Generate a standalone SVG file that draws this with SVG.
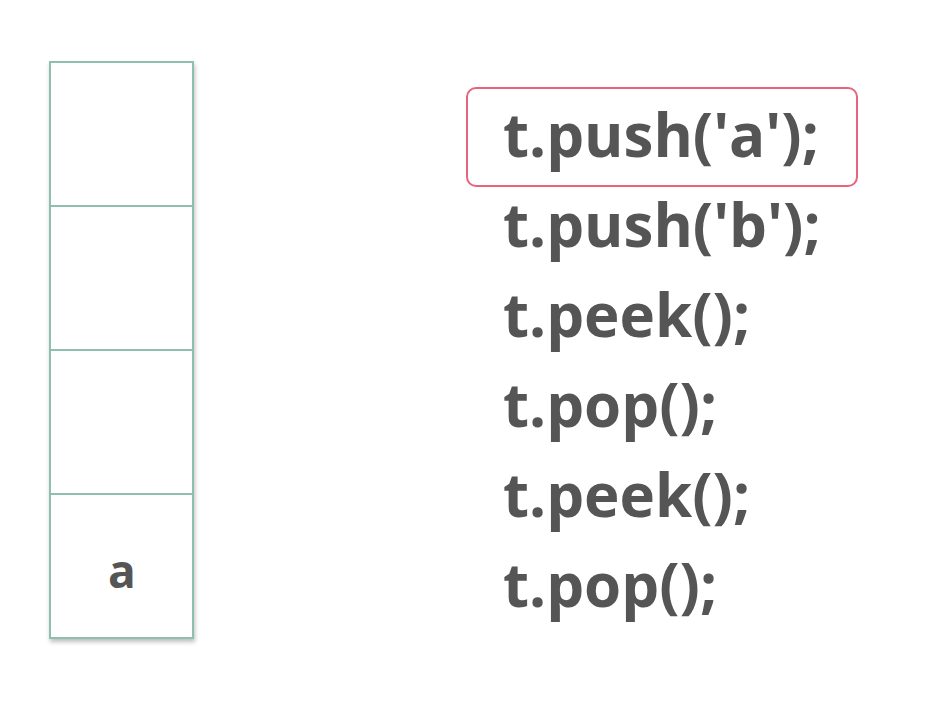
<svg xmlns="http://www.w3.org/2000/svg" width="929" height="702" viewBox="0 0 929 702">
<defs>
<style>
.cell{fill:#ffffff;stroke:#8fbfb0;stroke-width:2}
.code{font-family:"Open Sans","Liberation Sans",sans-serif;font-weight:700;font-size:60px;fill:#555555}
.val{font-family:"Open Sans","Liberation Sans",sans-serif;font-weight:700;font-size:46px;fill:#555555}
</style>
<filter id="sh" x="-10%" y="-5%" width="130%" height="110%">
<feDropShadow dx="1" dy="3" stdDeviation="2" flood-color="#000" flood-opacity="0.25"/>
</filter>
</defs>
<rect width="929" height="702" fill="#ffffff"/>
<g id="stack" filter="url(#sh)">
<rect class="cell" x="50" y="62" width="143" height="144"/>
<rect class="cell" x="50" y="206" width="143" height="144"/>
<rect class="cell" x="50" y="350" width="143" height="144"/>
<rect class="cell" x="50" y="494" width="143" height="144"/>
</g>
<g id="cell-a">
<text class="val" x="122" y="588" text-anchor="middle">a</text>
</g>
<g id="highlight">
<rect x="467" y="88" width="390" height="98" rx="9" fill="none" stroke="#e8637d" stroke-width="2"/>
</g>
<g id="code">
<text class="code" x="503" y="157">t.push('a');</text>
<text class="code" x="503" y="247">t.push('b');</text>
<text class="code" x="503" y="337">t.peek();</text>
<text class="code" x="503" y="427">t.pop();</text>
<text class="code" x="503" y="517">t.peek();</text>
<text class="code" x="503" y="607">t.pop();</text>
</g>
<g id="connectors"/>
</svg>
